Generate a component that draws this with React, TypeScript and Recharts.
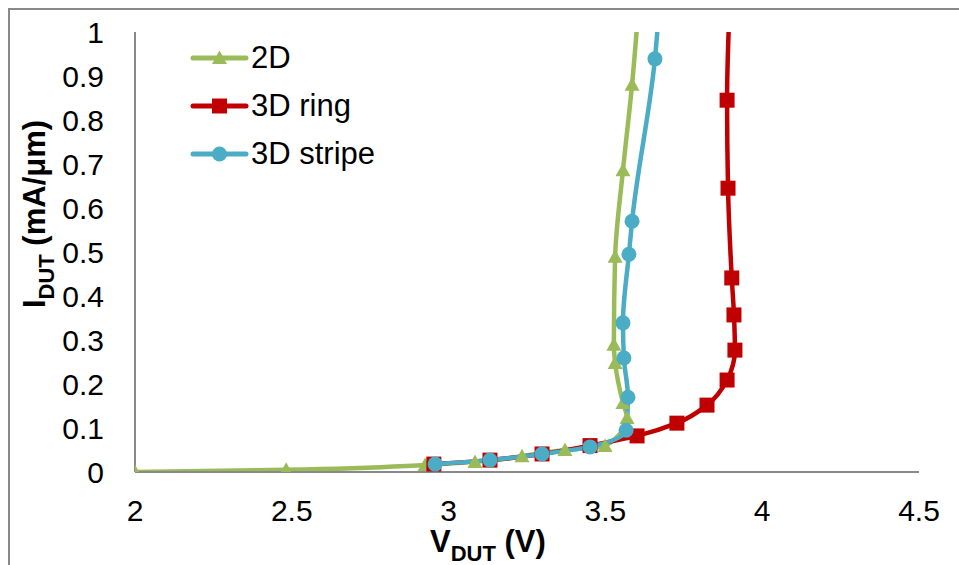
import React from 'react';
import { LineChart, Line, XAxis, YAxis } from 'recharts';

// Tick labels
const xTicks = [2, 2.5, 3, 3.5, 4, 4.5];
const yTicks = [0, 0.1, 0.2, 0.3, 0.4, 0.5, 0.6, 0.7, 0.8, 0.9, 1];

// Series names
const seriesNames = ['2D', '3D ring', '3D stripe'];

// 2D (V, I)
const v2D = [2.0, 2.482, 2.925, 3.084, 3.234, 3.371, 3.499, 3.569, 3.556, 3.531, 3.527, 3.531, 3.556, 3.585, 3.606];
const i2D = [0.0, 0.005, 0.016, 0.023, 0.036, 0.05, 0.059, 0.123, 0.157, 0.248, 0.289, 0.489, 0.686, 0.88, 1.06];

// 3D ring (V, I)
const vRing = [2.953, 3.132, 3.298, 3.451, 3.601, 3.728, 3.824, 3.888, 3.913, 3.91, 3.903, 3.891, 3.888, 3.896];
const iRing = [0.018, 0.027, 0.041, 0.06, 0.082, 0.111, 0.152, 0.209, 0.277, 0.357, 0.441, 0.645, 0.845, 1.06];

// 3D stripe (V, I)
const vStripe = [2.957, 3.132, 3.298, 3.451, 3.566, 3.572, 3.559, 3.556, 3.575, 3.585, 3.658, 3.672];
const iStripe = [0.018, 0.027, 0.041, 0.057, 0.095, 0.17, 0.259, 0.339, 0.495, 0.57, 0.939, 1.06];

const GREEN = '#9BBB59';
const RED = '#C00000';
const BLUE = '#4BACC6';
const AXIS = '#898989';
const FONT = '"Liberation Sans", Arial, sans-serif';

const toPoints = (v: number[], i: number[]) => v.map((x, k) => ({ x, y: i[k] }));
const data2D = toPoints(v2D, i2D);
const dataRing = toPoints(vRing, iRing);
const dataStripe = toPoints(vStripe, iStripe);

const Triangle = ({ cx, cy, color }: any) => (
  <path d={`M${cx},${cy - 7.5} L${cx + 7.5},${cy + 6} L${cx - 7.5},${cy + 6} Z`} fill={color} />
);
const Square = ({ cx, cy, color }: any) => (
  <rect x={cx - 7.5} y={cy - 7.5} width={15} height={15} fill={color} />
);
const Circle = ({ cx, cy, color }: any) => <circle cx={cx} cy={cy} r={7.5} fill={color} />;

const markers = [Triangle, Square, Circle];
const colors = [GREEN, RED, BLUE];

const LegendBox = () => (
  <div style={{ position: 'absolute', left: 190, top: 34, fontFamily: FONT, fontSize: 31, color: '#000' }}>
    {seriesNames.map((name, k) => {
      const M = markers[k];
      return (
        <div key={name} style={{ display: 'flex', alignItems: 'center', height: 48 }}>
          <svg width={60} height={40} style={{ display: 'block' }}>
            <line x1={3} y1={20} x2={56} y2={20} stroke={colors[k]} strokeWidth={5} strokeLinecap="round" />
            <M cx={29.5} cy={20} color={colors[k]} />
          </svg>
          <span style={{ marginLeft: 1, lineHeight: '40px' }}>{name}</span>
        </div>
      );
    })}
  </div>
);

export default function App() {
  return (
    <div style={{ position: 'absolute', left: 0, top: 0, width: 959, height: 565, overflow: 'hidden', background: '#fff', fontFamily: FONT }}>
      <div style={{ position: 'absolute', left: 8, top: 8, width: 1200, height: 1200, borderLeft: `2px solid ${AXIS}`, borderTop: `2px solid ${AXIS}` }} />
      <div style={{ position: 'absolute', left: 0, top: 0 }}>
        <LineChart width={959} height={565} margin={{ top: 32, right: 40, bottom: 0, left: 0 }}>
          <XAxis
            type="number"
            dataKey="x"
            domain={[2, 4.5]}
            ticks={xTicks}
            interval={0}
            allowDataOverflow
            axisLine={{ stroke: AXIS, strokeWidth: 2 }}
            tickLine={false}
            tickSize={0}
            tickMargin={28}
            height={93}
            tick={{ fill: '#000', fontSize: 30, fontFamily: FONT }}
          />
          <YAxis
            type="number"
            dataKey="y"
            domain={[0, 1]}
            ticks={yTicks}
            interval={0}
            allowDataOverflow
            axisLine={{ stroke: AXIS, strokeWidth: 2 }}
            tickLine={false}
            tickSize={0}
            tickMargin={31}
            width={135}
            tick={{ fill: '#000', fontSize: 30, fontFamily: FONT }}
            tickFormatter={(v: number) => String(v)}
          />
          {[data2D, dataRing, dataStripe].map((d, k) => {
            const M = markers[k];
            return (
              <Line
                key={seriesNames[k]}
                data={d}
                dataKey="y"
                name={seriesNames[k]}
                type="monotoneY"
                stroke={colors[k]}
                strokeWidth={4.5}
                isAnimationActive={false}
                activeDot={false}
                dot={(p: any) => <M key={`${k}-${p.index}`} cx={p.cx} cy={p.cy} color={colors[k]} />}
              />
            );
          })}
        </LineChart>
      </div>
      <svg width={959} height={565} style={{ position: 'absolute', left: 0, top: 0, pointerEvents: 'none' }}>
        <text x={430} y={552} fontSize={31} fontWeight="bold" fontFamily={FONT} fill="#000">
          V<tspan fontSize={22} dy={9}>DUT</tspan>
          <tspan dy={-9}> (V)</tspan>
        </text>
        <text transform="translate(45,214) rotate(-90)" textAnchor="middle" fontSize={31} fontWeight="bold" fontFamily={FONT} fill="#000">
          I<tspan fontSize={22} dy={9}>DUT</tspan>
          <tspan dy={-9}> (mA/μm)</tspan>
        </text>
      </svg>
      <LegendBox />
    </div>
  );
}
